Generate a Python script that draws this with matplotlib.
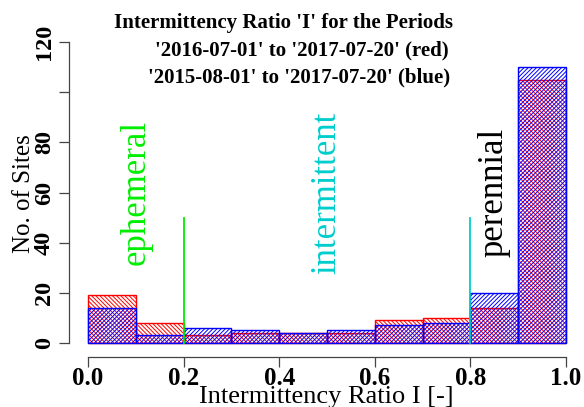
import matplotlib
matplotlib.use('Agg')
import matplotlib.pyplot as plt
import numpy as np

# ---- data ----
bin_left = [0.0, 0.1, 0.2, 0.3, 0.4, 0.5, 0.6, 0.7, 0.8, 0.9]
bin_width = 0.1
red_counts = [19, 8, 3, 4, 4, 4, 9, 10, 14, 105]    # 2016-07-01 to 2017-07-20
blue_counts = [14, 3, 6, 5, 4, 5, 7, 8, 20, 110]    # 2015-08-01 to 2017-07-20
x_ticks = [0.0, 0.2, 0.4, 0.6, 0.8, 1.0]
x_ticklabels = ['0.0', '0.2', '0.4', '0.6', '0.8', '1.0']
y_ticks = [0, 20, 40, 60, 80, 100, 120]
y_ticklabels = ['0', '20', '40', '60', '80', '', '120']
class_labels = ['ephemeral', 'intermittent', 'perennial']
class_x = [0.1, 0.5, 0.85]
class_y = 60
class_colors = ['#00EE00', '#00CDCD', 'black']
bound_x = [0.2, 0.8]
bound_top = 50
bound_colors = ['#00EE00', '#00CDCD']
title_lines = ["Intermittency Ratio 'I' for the Periods",
               "'2016-07-01' to '2017-07-20' (red)",
               "'2015-08-01' to '2017-07-20' (blue)"]

plt.rcParams['font.family'] = ['Liberation Serif', 'DejaVu Serif']
plt.rcParams['hatch.linewidth'] = 0.7

W, H = 584, 407
fig = plt.figure(figsize=(W / 100, H / 100), dpi=100)

# axes placement in pixels
ax_left_px, ax_right_px = 69, 584
ax_top_px, ax_bot_px = 30, 357
ax = fig.add_axes([ax_left_px / W, 1 - ax_bot_px / H,
                   (ax_right_px - ax_left_px) / W, (ax_bot_px - ax_top_px) / H])

x0_px, x1_px = 88, 566
sx = (x1_px - x0_px) / 1.0
y0_px, y120_px = 343, 42
sy = (y0_px - y120_px) / 120.0
ax.set_xlim((ax_left_px - x0_px) / sx, (ax_right_px - x0_px) / sx)
ax.set_ylim(-(ax_bot_px - y0_px) / sy, (y0_px - ax_top_px) / sy)

ax.bar(bin_left, red_counts, width=bin_width, align='edge', fill=False,
       edgecolor='red', hatch='\\' * 8, linewidth=1.0)
ax.bar(bin_left, blue_counts, width=bin_width, align='edge', fill=False,
       edgecolor='blue', hatch='/' * 8, linewidth=1.0)

for bx, bc in zip(bound_x, bound_colors):
    ax.plot([bx, bx], [0, bound_top], color=bc, linewidth=1.3)

for lab, lx, lc in zip(class_labels, class_x, class_colors):
    ax.text(lx, class_y, lab, rotation=90, ha='center', va='center',
            color=lc, fontsize=25)

for s in ['top', 'right']:
    ax.spines[s].set_visible(False)
ax.spines['left'].set_bounds(0, 120)
ax.spines['bottom'].set_bounds(0, 1.0)
for s in ['left', 'bottom']:
    ax.spines[s].set_color('#444444')
    ax.spines[s].set_linewidth(0.9)

ax.set_xticks(x_ticks)
ax.set_xticklabels(x_ticklabels, fontsize=18, fontweight='bold')
ax.set_yticks(y_ticks)
ax.set_yticklabels(y_ticklabels, fontsize=17.5, fontweight='bold',
                   rotation=90, va='center')
ax.tick_params(axis='both', length=7, width=0.9, color='#444444')
ax.tick_params(axis='x', pad=0)
ax.tick_params(axis='y', pad=3)

ax.set_xlabel('Intermittency Ratio I [-]', fontsize=19, labelpad=-3)
ax.set_ylabel('No. of Sites', fontsize=18, labelpad=-1)

title_centers = [284, 302, 299]
title_baselines = [28, 55, 82]
for t, cx, by in zip(title_lines, title_centers, title_baselines):
    fig.text(cx / W, 1 - by / H, t, ha='center', va='baseline',
             fontsize=15, fontweight='bold')

fig.savefig('out.png', dpi=100)
